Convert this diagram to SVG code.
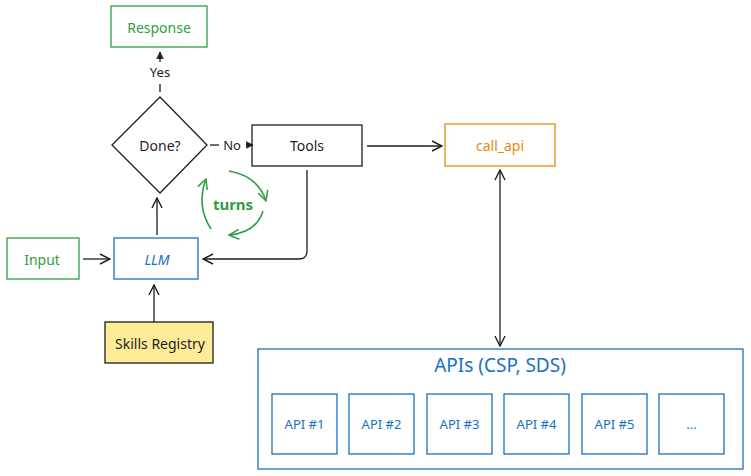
<svg xmlns="http://www.w3.org/2000/svg" width="751" height="476" viewBox="0 0 751 476">
<defs>
<marker id="ah" viewBox="0 0 12 12" refX="11" refY="6" markerWidth="12" markerHeight="12" markerUnits="userSpaceOnUse" orient="auto-start-reverse">
<path d="M1,1 L11,6 L1,11" fill="none" stroke="#1e1e1e" stroke-width="1.4"/>
</marker>
<marker id="ahs" viewBox="0 0 12 12" refX="11" refY="6" markerWidth="8" markerHeight="8" markerUnits="userSpaceOnUse" orient="auto">
<path d="M1,1 L11,6 L1,11 Z" fill="#1e1e1e" stroke="#1e1e1e" stroke-width="1"/>
</marker>
<marker id="ahg" viewBox="0 0 12 12" refX="11" refY="6" markerWidth="12" markerHeight="12" markerUnits="userSpaceOnUse" orient="auto">
<path d="M1,1 L11,6 L1,11" fill="none" stroke="#2f9e44" stroke-width="1.5"/>
</marker>
</defs>
<style>
text{font-family:"Noto Sans","Liberation Sans",sans-serif;font-size:14px;text-anchor:middle;dominant-baseline:central}
.s12{font-size:13px}
.s17{font-size:19px}
.turns{font-size:15px;font-weight:bold}
.g{fill:none;stroke:#2f9e44;stroke-width:1.3}
.gt{fill:#2f9e44}
.b{fill:none;stroke:#1971c2;stroke-width:1.3}
.bt{fill:#1971c2}
.k{fill:none;stroke:#1e1e1e;stroke-width:1.3}
.kt{fill:#1e1e1e}
.c{fill:none;stroke:#1e1e1e;stroke-width:1.3}
.ga{fill:none;stroke:#2f9e44;stroke-width:1.6}
</style>
<rect width="751" height="476" fill="#ffffff"/>
<g id="connectors">
<line x1="160" y1="92" x2="160" y2="84" class="c"/>
<line x1="160" y1="62" x2="160" y2="52" class="c" marker-end="url(#ahs)"/>
<text x="160" y="72" class="kt s12">Yes</text>
<line x1="210" y1="145" x2="219" y2="145" class="c"/>
<line x1="246" y1="145" x2="253" y2="145" class="c" marker-end="url(#ahs)"/>
<text x="232" y="145" class="kt s12">No</text>
<line x1="367" y1="146" x2="442" y2="146" class="c" stroke-width="1.8" marker-end="url(#ah)"/>
<line x1="500" y1="170" x2="500" y2="346" class="c" stroke-width="2" marker-start="url(#ah)" marker-end="url(#ah)"/>
<line x1="83" y1="259" x2="110" y2="259" class="c" marker-end="url(#ah)"/>
<line x1="157" y1="235" x2="157" y2="198" class="c" marker-end="url(#ah)"/>
<path d="M307,170 L307,251 Q307,259 299,259 L203,259" class="c" marker-end="url(#ah)"/>
<line x1="154" y1="322" x2="154" y2="285" class="c" stroke-width="2" marker-end="url(#ah)"/>
<path d="M229,171 Q258,176 266,201" class="ga" marker-end="url(#ahg)"/>
<path d="M263,211 Q256,233 229,235" class="ga" marker-end="url(#ahg)"/>
<path d="M211,229 Q196,206 206,179" class="ga" marker-end="url(#ahg)"/>
<text x="233" y="204" class="gt turns">turns</text>
</g>
<g id="response">
<rect x="111" y="6" width="96" height="41" class="g"/>
<text x="159" y="27" class="gt">Response</text>
</g>
<g id="done">
<polygon points="160,97 207,145 160,193 112,145" class="k"/>
<text x="160" y="145" class="kt">Done?</text>
</g>
<g id="tools">
<rect x="252" y="125" width="110" height="41" class="k"/>
<text x="307" y="145" class="kt">Tools</text>
</g>
<g id="call_api">
<rect x="445" y="124" width="110" height="42" fill="none" stroke="#e8890c" stroke-width="1.3"/>
<text x="500" y="145" fill="#e8890c">call_api</text>
</g>
<g id="input">
<rect x="7" y="238" width="72" height="41" class="g"/>
<text x="42" y="259" class="gt">Input</text>
</g>
<g id="llm">
<rect x="114" y="238" width="84" height="41" class="b"/>
<text x="157" y="259" class="bt" font-style="italic">LLM</text>
</g>
<g id="skills">
<rect x="105" y="322" width="108" height="41" fill="#ffec99" stroke="#1e1e1e" stroke-width="1.3"/>
<text x="160" y="343" class="kt">Skills Registry</text>
</g>
<g id="apis">
<rect x="258" y="349" width="485" height="120" class="b"/>
<text x="500" y="365" class="bt s17">APIs (CSP, SDS)</text>
</g>
<g id="api1"><rect x="272" y="394" width="65" height="60" class="b"/><text x="304.5" y="424" class="bt s12">API #1</text></g>
<g id="api2"><rect x="349" y="394" width="65" height="60" class="b"/><text x="381.5" y="424" class="bt s12">API #2</text></g>
<g id="api3"><rect x="427" y="394" width="65" height="60" class="b"/><text x="459.5" y="424" class="bt s12">API #3</text></g>
<g id="api4"><rect x="504" y="394" width="65" height="60" class="b"/><text x="536.5" y="424" class="bt s12">API #4</text></g>
<g id="api5"><rect x="582" y="394" width="65" height="60" class="b"/><text x="614.5" y="424" class="bt s12">API #5</text></g>
<g id="api6"><rect x="659" y="394" width="65" height="60" class="b"/><text x="691.5" y="424" class="bt s12">...</text></g>
</svg>
